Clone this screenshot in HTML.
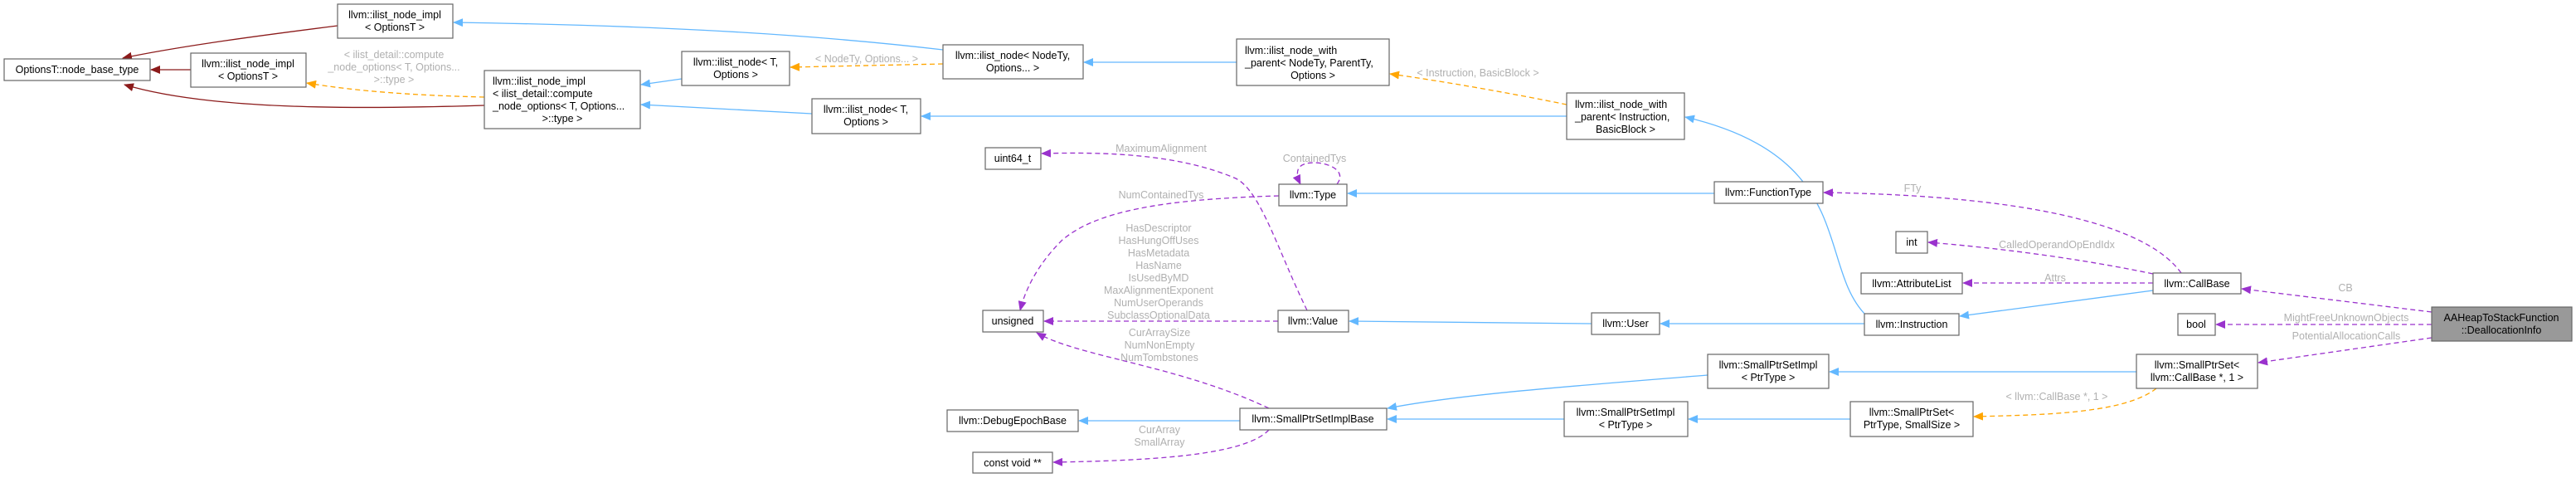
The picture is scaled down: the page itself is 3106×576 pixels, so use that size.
<!DOCTYPE html>
<html><head><meta charset="utf-8"><style>
html,body{margin:0;padding:0;background:#fff;}
svg{display:block;}
text{font-family:"Liberation Sans",Arial,sans-serif;font-size:12.5px;}
.n{fill:#000;text-anchor:middle;}
.l{fill:#b0b0b0;text-anchor:middle;}
rect{fill:#fff;stroke:#666;stroke-width:1.2;}
.b{stroke:#63b8ff;fill:none;stroke-width:1.3;}
.r{stroke:#8b1a1a;fill:none;stroke-width:1.3;}
.o{stroke:#ffa500;fill:none;stroke-width:1.3;stroke-dasharray:6,4;}
.p{stroke:#9a32cd;fill:none;stroke-width:1.3;stroke-dasharray:6,4;}
</style></head><body>
<svg width="3106" height="576" viewBox="0 0 3106 576" xmlns="http://www.w3.org/2000/svg">
<defs>
<marker id="mb" markerWidth="12" markerHeight="10" refX="11" refY="5" orient="auto" markerUnits="userSpaceOnUse"><path d="M0,0 L12,5 L0,10 z" fill="#63b8ff"/></marker>
<marker id="mr" markerWidth="12" markerHeight="10" refX="11" refY="5" orient="auto" markerUnits="userSpaceOnUse"><path d="M0,0 L12,5 L0,10 z" fill="#8b1a1a"/></marker>
<marker id="mo" markerWidth="12" markerHeight="10" refX="11" refY="5" orient="auto" markerUnits="userSpaceOnUse"><path d="M0,0 L12,5 L0,10 z" fill="#ffa500"/></marker>
<marker id="mp" markerWidth="12" markerHeight="10" refX="11" refY="5" orient="auto" markerUnits="userSpaceOnUse"><path d="M0,0 L12,5 L0,10 z" fill="#9a32cd"/></marker>
</defs>

<!-- edges -->
<path class="r" marker-end="url(#mr)" d="M407,31 C320,42 220,55 148,70"/>
<path class="r" marker-end="url(#mr)" d="M230,84 L182,84"/>
<path class="r" marker-end="url(#mr)" d="M584,127 C420,132 250,132 150,102"/>
<path class="o" marker-end="url(#mo)" d="M584,117 C500,115 430,110 370,100"/>
<path class="b" marker-end="url(#mb)" d="M1137,60 C950,38 750,30 547,27"/>
<path class="b" marker-end="url(#mb)" d="M822,95 L773,102"/>
<path class="b" marker-end="url(#mb)" d="M979,137 L773,126"/>
<path class="o" marker-end="url(#mo)" d="M1137,77 L953,81"/>
<path class="b" marker-end="url(#mb)" d="M1491,75 L1307,75"/>
<path class="b" marker-end="url(#mb)" d="M1889,140 L1111,140"/>
<path class="o" marker-end="url(#mo)" d="M1889,126 C1820,112 1740,98 1676,89"/>
<path class="b" marker-end="url(#mb)" d="M2250,380 C2190,320 2240,190 2032,141"/>
<path class="b" marker-end="url(#mb)" d="M2067,233 L1625,233"/>
<path class="p" marker-end="url(#mp)" d="M1576,374 C1540,300 1520,230 1490,215 C1420,185 1330,183 1256,185"/>
<path class="p" marker-end="url(#mp)" d="M1612,222 C1625,205 1600,196 1585,196 C1565,196 1560,205 1568,222"/>
<path class="p" marker-end="url(#mp)" d="M1542,236 C1400,240 1320,255 1280,290 C1250,320 1236,350 1230,374"/>
<path class="p" marker-end="url(#mp)" d="M1541,387 L1259,387"/>
<path class="p" marker-end="url(#mp)" d="M1530,492 C1420,440 1300,430 1250,401"/>
<path class="p" marker-end="url(#mp)" d="M1530,518 C1500,550 1380,555 1270,557"/>
<path class="b" marker-end="url(#mb)" d="M1919,390 L1627,387"/>
<path class="b" marker-end="url(#mb)" d="M2248,390 L2002,390"/>
<path class="b" marker-end="url(#mb)" d="M2596,350 L2363,381"/>
<path class="p" marker-end="url(#mp)" d="M2630,329 C2580,260 2400,235 2199,232"/>
<path class="p" marker-end="url(#mp)" d="M2596,330 C2500,310 2400,298 2325,292"/>
<path class="p" marker-end="url(#mp)" d="M2596,341 L2367,341"/>
<path class="p" marker-end="url(#mp)" d="M2932,376 L2703,348"/>
<path class="p" marker-end="url(#mp)" d="M2932,391 L2672,391"/>
<path class="p" marker-end="url(#mp)" d="M2932,407 L2723,437"/>
<path class="b" marker-end="url(#mb)" d="M2576,448 L2206,448"/>
<path class="b" marker-end="url(#mb)" d="M2059,452 C1900,465 1760,475 1673,492"/>
<path class="b" marker-end="url(#mb)" d="M1886,505 L1673,505"/>
<path class="b" marker-end="url(#mb)" d="M2231,505 L2036,505"/>
<path class="o" marker-end="url(#mo)" d="M2600,468 C2560,500 2450,500 2380,502"/>
<path class="b" marker-end="url(#mb)" d="M1495,507 L1301,507"/>

<!-- edge labels -->
<text class="l" x="475" y="70">&lt; ilist_detail::compute</text>
<text class="l" x="475" y="85">_node_options&lt; T, Options...</text>
<text class="l" x="475" y="100">&gt;::type &gt;</text>
<text class="l" x="1045" y="75">&lt; NodeTy, Options... &gt;</text>
<text class="l" x="1782" y="92">&lt; Instruction, BasicBlock &gt;</text>
<text class="l" x="1400" y="183">MaximumAlignment</text>
<text class="l" x="1585" y="195">ContainedTys</text>
<text class="l" x="1400" y="239">NumContainedTys</text>
<text class="l" x="1397" y="279">HasDescriptor</text>
<text class="l" x="1397" y="294">HasHungOffUses</text>
<text class="l" x="1397" y="309">HasMetadata</text>
<text class="l" x="1397" y="324">HasName</text>
<text class="l" x="1397" y="339">IsUsedByMD</text>
<text class="l" x="1397" y="354">MaxAlignmentExponent</text>
<text class="l" x="1397" y="369">NumUserOperands</text>
<text class="l" x="1397" y="384">SubclassOptionalData</text>
<text class="l" x="1398" y="405">CurArraySize</text>
<text class="l" x="1398" y="420">NumNonEmpty</text>
<text class="l" x="1398" y="435">NumTombstones</text>
<text class="l" x="1398" y="522">CurArray</text>
<text class="l" x="1398" y="537">SmallArray</text>
<text class="l" x="2306" y="231">FTy</text>
<text class="l" x="2480" y="299">CalledOperandOpEndIdx</text>
<text class="l" x="2478" y="339">Attrs</text>
<text class="l" x="2828" y="351">CB</text>
<text class="l" x="2829" y="387">MightFreeUnknownObjects</text>
<text class="l" x="2829" y="409">PotentialAllocationCalls</text>
<text class="l" x="2480" y="482">&lt; llvm::CallBase *, 1 &gt;</text>

<!-- nodes -->
<rect x="5" y="71" width="176" height="26"/><text class="n" x="93" y="88">OptionsT::node_base_type</text>
<rect x="407" y="5" width="139" height="41"/><text class="n" x="476" y="22">llvm::ilist_node_impl</text><text class="n" x="476" y="37">&lt; OptionsT &gt;</text>
<rect x="230" y="64" width="139" height="41"/><text class="n" x="299" y="81">llvm::ilist_node_impl</text><text class="n" x="299" y="96">&lt; OptionsT &gt;</text>
<rect x="584" y="85" width="188" height="70"/>
<text x="594" y="102">llvm::ilist_node_impl</text><text x="594" y="117">&lt; ilist_detail::compute</text><text x="594" y="132">_node_options&lt; T, Options...</text><text class="n" x="678" y="147">&gt;::type &gt;</text>
<rect x="822" y="62" width="130" height="41"/><text class="n" x="887" y="79">llvm::ilist_node&lt; T,</text><text class="n" x="887" y="94">Options &gt;</text>
<rect x="979" y="119" width="131" height="42"/><text class="n" x="1044" y="136">llvm::ilist_node&lt; T,</text><text class="n" x="1044" y="151">Options &gt;</text>
<rect x="1137" y="54" width="169" height="41"/><text class="n" x="1221" y="71">llvm::ilist_node&lt; NodeTy,</text><text class="n" x="1221" y="86">Options... &gt;</text>
<rect x="1491" y="47" width="184" height="56"/><text x="1501" y="65">llvm::ilist_node_with</text><text x="1501" y="80">_parent&lt; NodeTy, ParentTy,</text><text class="n" x="1583" y="95">Options &gt;</text>
<rect x="1889" y="112" width="142" height="56"/><text x="1899" y="130">llvm::ilist_node_with</text><text x="1899" y="145">_parent&lt; Instruction,</text><text class="n" x="1960" y="160">BasicBlock &gt;</text>
<rect x="1188" y="178" width="67" height="26"/><text class="n" x="1221" y="195">uint64_t</text>
<rect x="1542" y="222" width="82" height="26"/><text class="n" x="1583" y="239">llvm::Type</text>
<rect x="2067" y="219" width="131" height="26"/><text class="n" x="2132" y="236">llvm::FunctionType</text>
<rect x="1185" y="374" width="73" height="26"/><text class="n" x="1221" y="391">unsigned</text>
<rect x="1541" y="374" width="85" height="26"/><text class="n" x="1583" y="391">llvm::Value</text>
<rect x="1919" y="377" width="82" height="26"/><text class="n" x="1960" y="394">llvm::User</text>
<rect x="2248" y="378" width="114" height="26"/><text class="n" x="2305" y="395">llvm::Instruction</text>
<rect x="2286" y="279" width="38" height="26"/><text class="n" x="2305" y="296">int</text>
<rect x="2244" y="329" width="122" height="25"/><text class="n" x="2305" y="346">llvm::AttributeList</text>
<rect x="2596" y="329" width="106" height="25"/><text class="n" x="2649" y="346">llvm::CallBase</text>
<rect x="2626" y="378" width="45" height="26"/><text class="n" x="2648" y="395">bool</text>
<rect x="2932" y="370" width="169" height="41" style="fill:#999"/><text class="n" x="3016" y="387">AAHeapToStackFunction</text><text class="n" x="3016" y="402">::DeallocationInfo</text>
<rect x="2059" y="427" width="146" height="41"/><text class="n" x="2132" y="444">llvm::SmallPtrSetImpl</text><text class="n" x="2132" y="459">&lt; PtrType &gt;</text>
<rect x="2576" y="427" width="146" height="41"/><text class="n" x="2649" y="444">llvm::SmallPtrSet&lt;</text><text class="n" x="2649" y="459">llvm::CallBase *, 1 &gt;</text>
<rect x="1142" y="494" width="158" height="26"/><text class="n" x="1221" y="511">llvm::DebugEpochBase</text>
<rect x="1495" y="492" width="177" height="26"/><text class="n" x="1583" y="509">llvm::SmallPtrSetImplBase</text>
<rect x="1886" y="484" width="149" height="42"/><text class="n" x="1960" y="501">llvm::SmallPtrSetImpl</text><text class="n" x="1960" y="516">&lt; PtrType &gt;</text>
<rect x="2231" y="484" width="148" height="42"/><text class="n" x="2305" y="501">llvm::SmallPtrSet&lt;</text><text class="n" x="2305" y="516">PtrType, SmallSize &gt;</text>
<rect x="1173" y="545" width="96" height="25"/><text class="n" x="1221" y="562">const void **</text>
</svg>
</body></html>
